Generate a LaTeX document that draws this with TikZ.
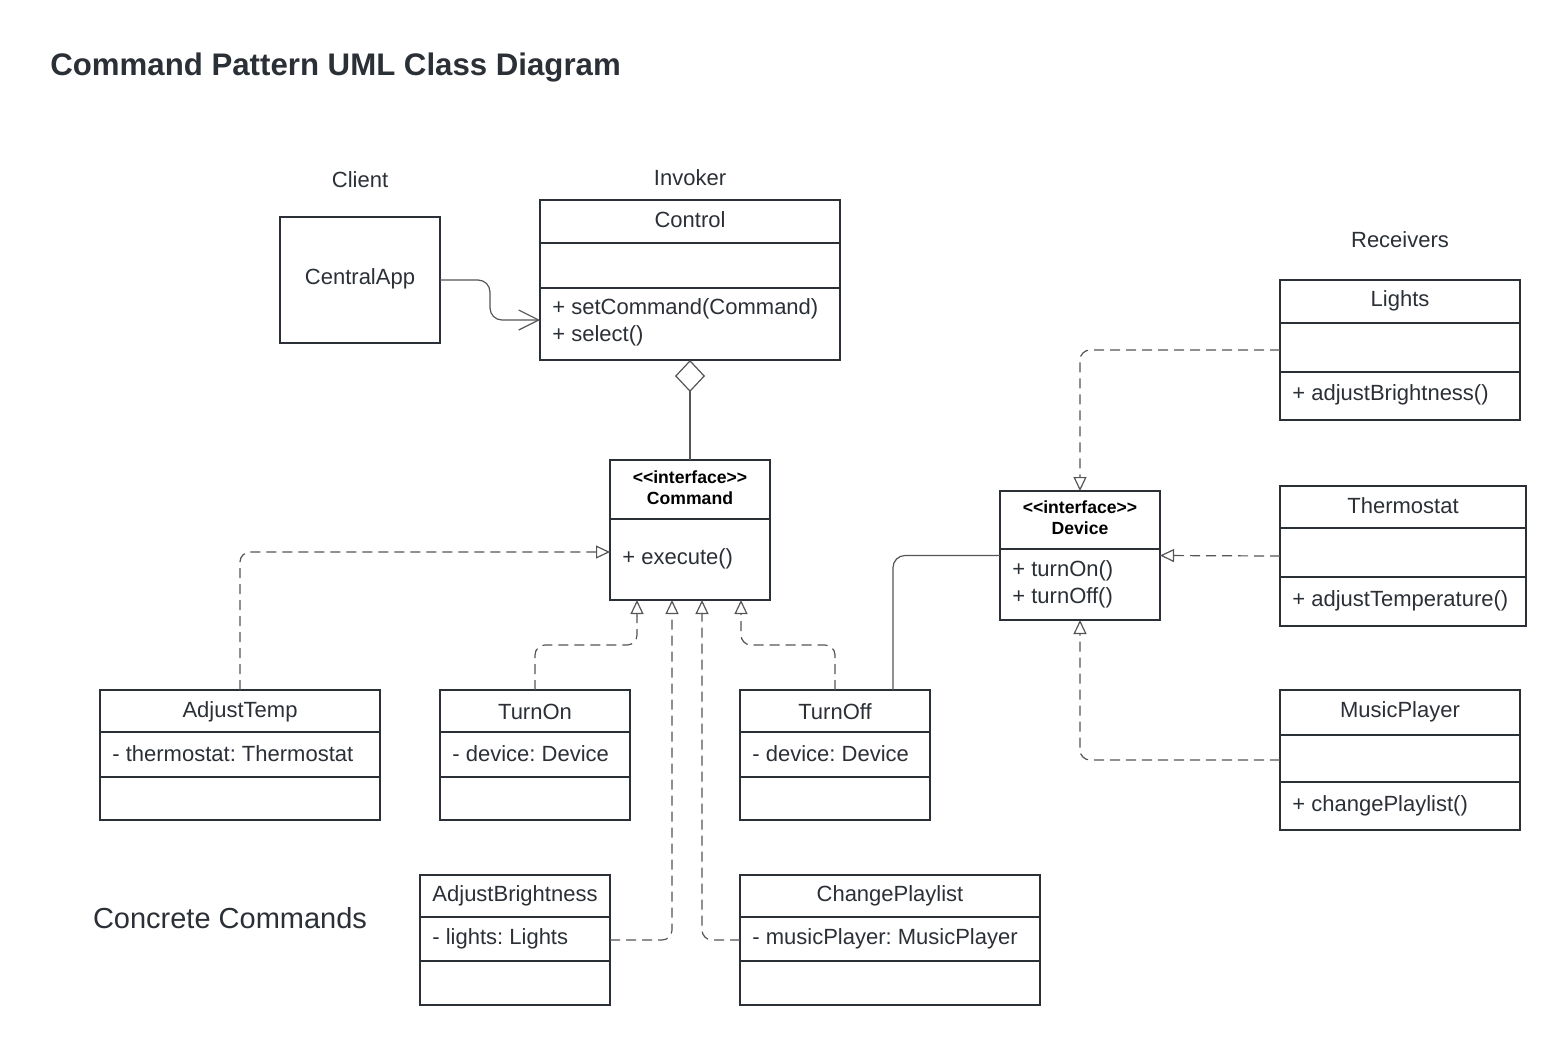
\documentclass[tikz,border=0pt]{standalone}
\usepackage{fontspec}
\setmainfont{Liberation Sans}
\usetikzlibrary{positioning,arrows.meta}
\definecolor{inkgray}{HTML}{2B2F36}
\definecolor{linegray}{HTML}{555555}
\frenchspacing

\begin{document}
\begin{tikzpicture}[x=0.5pt, y=-0.5pt,
ClassBox/.style={draw=inkgray, line width=1pt, inner sep=0pt, outer sep=0pt},
NameText/.style={text=inkgray, inner sep=0pt, yshift=-1pt,
                 font=\fontsize{11}{13}\selectfont},
MemberText/.style={NameText, anchor=west},
StereoText/.style={inner sep=0pt, align=center, text=black,
                   font=\bfseries\fontsize{8.8}{10.5}\selectfont},
Divider/.style={draw=inkgray, line width=1pt},
Realize/.style={draw=linegray, line width=0.6pt, dash pattern=on 5pt off 3pt,
                rounded corners=5pt, -{Triangle[open, length=7pt, width=6.5pt]}},
Assoc/.style={draw=linegray, line width=0.6pt, rounded corners=6pt},
]
\useasboundingbox (0,0) rectangle (1566,1045);

% heading and section labels
\node [anchor=west, inner sep=0pt, text=inkgray,
       font=\bfseries\fontsize{15.6}{18}\selectfont] (title) at (50,67)
      {Command Pattern UML Class Diagram};
\node [NameText] (lblclient) at (360,178) {Client};
\node [NameText] (lblinvoker) at (690,176) {Invoker};
\node [NameText] (lblreceivers) at (1400,238) {Receivers};
\node [NameText, font=\fontsize{14.5}{17}\selectfont] (lblconcrete) at (230,916)
      {Concrete Commands};

% client
\node [ClassBox, minimum width=80pt, minimum height=63pt] (centralapp) at (360,280) {};
\node [NameText] at (360,277) {CentralApp};

% invoker
\node [ClassBox, minimum width=150pt, minimum height=80pt] (control) at (690,280) {};
\node [NameText] at (690,218) {Control};
\draw [Divider] (control.west |- 0,243) -- (control.east |- 0,243);
\draw [Divider] (control.west |- 0,288) -- (control.east |- 0,288);
\node [MemberText] at (552,307) {+ setCommand(Command)};
\node [MemberText] at (552,334) {+ select()};

% command interface
\node [ClassBox, minimum width=80pt, minimum height=70pt] (command) at (690,530) {};
\node [StereoText] at (690,488) {<\kern0pt<interface>\kern0pt>\\Command};
\draw [Divider] (command.west |- 0,519) -- (command.east |- 0,519);
\node [MemberText] at (622,557) {+ execute()};

% concrete commands
\node [ClassBox, minimum width=140pt, minimum height=65pt] (adjusttemp) at (240,755) {};
\node [NameText] at (240,710) {AdjustTemp};
\draw [Divider] (adjusttemp.west |- 0,732) -- (adjusttemp.east |- 0,732);
\draw [Divider] (adjusttemp.west |- 0,777) -- (adjusttemp.east |- 0,777);
\node [MemberText] at (112,752) {- thermostat: Thermostat};

\node [ClassBox, minimum width=95pt, minimum height=65pt] (turnon) at (535,755) {};
\node [NameText] at (535,710) {TurnOn};
\draw [Divider] (turnon.west |- 0,732) -- (turnon.east |- 0,732);
\draw [Divider] (turnon.west |- 0,777) -- (turnon.east |- 0,777);
\node [MemberText] at (452,752) {- device: Device};

\node [ClassBox, minimum width=95pt, minimum height=65pt] (turnoff) at (835,755) {};
\node [NameText] at (835,710) {TurnOff};
\draw [Divider] (turnoff.west |- 0,732) -- (turnoff.east |- 0,732);
\draw [Divider] (turnoff.west |- 0,777) -- (turnoff.east |- 0,777);
\node [MemberText] at (752,752) {- device: Device};

\node [ClassBox, minimum width=95pt, minimum height=65pt] (adjustbrightness) at (515,940) {};
\node [NameText] at (515,894) {AdjustBrightness};
\draw [Divider] (adjustbrightness.west |- 0,917) -- (adjustbrightness.east |- 0,917);
\draw [Divider] (adjustbrightness.west |- 0,961) -- (adjustbrightness.east |- 0,961);
\node [MemberText] at (432,937) {- lights: Lights};

\node [ClassBox, minimum width=150pt, minimum height=65pt] (changeplaylist) at (890,940) {};
\node [NameText] at (890,894) {ChangePlaylist};
\draw [Divider] (changeplaylist.west |- 0,917) -- (changeplaylist.east |- 0,917);
\draw [Divider] (changeplaylist.west |- 0,961) -- (changeplaylist.east |- 0,961);
\node [MemberText] at (752,937) {- musicPlayer: MusicPlayer};

% device interface
\node [ClassBox, minimum width=80pt, minimum height=64.5pt] (device) at (1080,555.5) {};
\node [StereoText] at (1080,518) {<\kern0pt<interface>\kern0pt>\\Device};
\draw [Divider] (device.west |- 0,549) -- (device.east |- 0,549);
\node [MemberText] at (1012,569) {+ turnOn()};
\node [MemberText] at (1012,596) {+ turnOff()};

% receivers
\node [ClassBox, minimum width=120pt, minimum height=70pt] (lights) at (1400,350) {};
\node [NameText] at (1400,299) {Lights};
\draw [Divider] (lights.west |- 0,323) -- (lights.east |- 0,323);
\draw [Divider] (lights.west |- 0,372) -- (lights.east |- 0,372);
\node [MemberText] at (1292,393) {+ adjustBrightness()};

\node [ClassBox, minimum width=123pt, minimum height=70pt] (thermostat) at (1403,556) {};
\node [NameText] at (1403,504) {Thermostat};
\draw [Divider] (thermostat.west |- 0,528) -- (thermostat.east |- 0,528);
\draw [Divider] (thermostat.west |- 0,577) -- (thermostat.east |- 0,577);
\node [MemberText] at (1292,599) {+ adjustTemperature()};

\node [ClassBox, minimum width=120pt, minimum height=70pt] (musicplayer) at (1400,760) {};
\node [NameText] at (1400,710) {MusicPlayer};
\draw [Divider] (musicplayer.west |- 0,735) -- (musicplayer.east |- 0,735);
\draw [Divider] (musicplayer.west |- 0,782) -- (musicplayer.east |- 0,782);
\node [MemberText] at (1292,804) {+ changePlaylist()};

% connectors
\draw [Assoc, -{Straight Barb[length=10pt, width=10pt]}]
      (centralapp.east) -- (490,280) -- (490,320) -- (control.west |- 0,320);
\draw [draw=linegray, line width=0.6pt,
       {Diamond[open, length=16pt, width=15pt]}-] (control.south) -- (command.north);

\draw [Realize] (adjusttemp.north) |- ([yshift=-11pt]command.west);
\draw [Realize] (turnon.north) -- (turnon.north |- 0,645) -- (637,645)
      -- (command.south -| 637,0);
\draw [Realize] (adjustbrightness.east) -| (command.south -| 672,0);
\draw [Realize] (changeplaylist.west) -| (command.south -| 702,0);
\draw [Realize] (turnoff.north) -- (turnoff.north |- 0,645) -- (741,645)
      -- (command.south -| 741,0);

\draw [Assoc] (turnoff.north -| 893,0) |- (device.west);

\draw [Realize] (lights.west) -| (device.north);
\draw [Realize] (thermostat.west) -- (device.east);
\draw [Realize] (musicplayer.west) -| (device.south);
\end{tikzpicture}
\end{document}
